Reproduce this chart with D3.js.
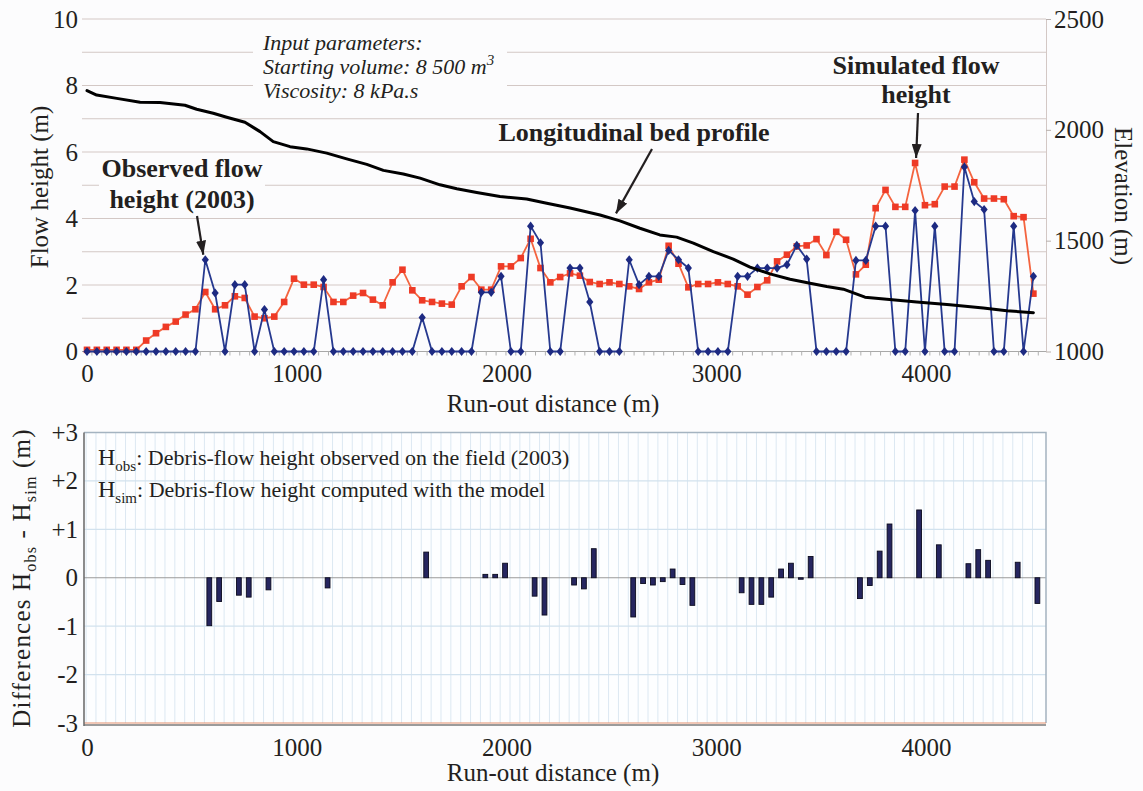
<!DOCTYPE html>
<html>
<head>
<meta charset="utf-8">
<script src="https://cdn.jsdelivr.net/npm/d3@7"></script>
<style>
  body { margin: 0; background: #fcfcfd; }
  svg { display: block; font-family: "Liberation Serif", "Times New Roman", serif; }
</style>
</head>
<body>
<div id="chart"></div>
<script>
// cross-section positions along the channel (m)
var distance = [
  0, 47, 94, 141, 188, 235, 282, 329, 376, 423,
  470, 517, 564, 611, 658, 705, 752, 799, 846, 893,
  940, 987, 1034, 1081, 1128, 1175, 1222, 1269, 1316, 1363,
  1410, 1457, 1504, 1551, 1598, 1645, 1692, 1739, 1786, 1833,
  1880, 1927, 1974, 2021, 2068, 2115, 2162, 2209, 2256, 2303,
  2350, 2397, 2444, 2491, 2538, 2585, 2632, 2679, 2726, 2773,
  2820, 2867, 2914, 2961, 3008, 3055, 3102, 3149, 3196, 3243,
  3290, 3337, 3384, 3431, 3478, 3525, 3572, 3619, 3666, 3713,
  3760, 3807, 3854, 3901, 3948, 3995, 4042, 4089, 4136, 4183,
  4230, 4277, 4324, 4371, 4418, 4465, 4512
];

// observed flow height 2003 (m)
var observed = [
  0, 0, 0, 0, 0, 0, 0, 0, 0, 0,
  0, 0, 2.76, 1.76, 0, 2.01, 2.01, 0, 1.26, 0,
  0, 0, 0, 0, 2.16, 0, 0, 0, 0, 0,
  0, 0, 0, 0, 1.02, 0, 0, 0, 0, 0,
  1.78, 1.78, 2.26, 0, 0, 3.77, 3.27, 0, 0, 2.51,
  2.51, 1.49, 0, 0, 0, 2.76, 2.01, 2.26, 2.26, 3.04,
  2.76, 2.51, 0, 0, 0, 0, 2.26, 2.26, 2.51, 2.51,
  2.51, 2.61, 3.19, 2.78, 0, 0, 0, 0, 2.74, 2.74,
  3.77, 3.77, 0, 0, 4.24, 0, 3.77, 0, 0, 5.55,
  4.51, 4.27, 0, 0, 3.77, 0, 2.26
];

// simulated flow height (m)
var simulated = [
  0.05, 0.05, 0.05, 0.05, 0.05, 0.05, 0.33, 0.55, 0.74, 0.90,
  1.11, 1.27, 1.79, 1.27, 1.39, 1.66, 1.61, 1.05, 1.00, 1.05,
  1.49, 2.19, 2.01, 2.01, 1.94, 1.49, 1.49, 1.68, 1.76, 1.56,
  1.39, 2.08, 2.46, 1.84, 1.54, 1.49, 1.44, 1.41, 1.96, 2.24,
  1.86, 1.86, 2.56, 2.56, 2.81, 3.39, 2.51, 2.08, 2.24, 2.35,
  2.28, 2.09, 2.03, 2.08, 2.03, 1.96, 1.88, 2.08, 2.16, 3.18,
  2.64, 1.93, 2.03, 2.03, 2.08, 2.03, 1.96, 1.71, 1.94, 2.14,
  2.71, 2.91, 3.16, 3.19, 3.38, 2.90, 3.60, 3.36, 2.32, 2.61,
  4.31, 4.86, 4.35, 4.35, 5.67, 4.40, 4.43, 4.96, 4.96, 5.77,
  5.09, 4.60, 4.60, 4.58, 4.07, 4.04, 1.74
];

// longitudinal bed profile
var profileDistance = [0, 46, 142, 253, 348, 467, 523, 602, 666, 753, 825, 888, 968, 1047, 1143, 1238,
  1334, 1413, 1508, 1588, 1683, 1763, 1858, 1969, 2096, 2192, 2303, 2446, 2541, 2636, 2731, 2811,
  2891, 2986, 3081, 3161, 3256, 3352, 3447, 3527, 3606, 3709, 3813, 3956, 4114, 4273, 4385, 4512];
var profileElevation = [2177, 2157, 2142, 2124, 2123, 2111, 2093, 2075, 2057, 2034, 1992, 1947, 1924, 1914, 1895, 1869,
  1844, 1817, 1801, 1782, 1752, 1734, 1717, 1699, 1688, 1669, 1647, 1616, 1589, 1556, 1526, 1516,
  1489, 1451, 1417, 1381, 1350, 1326, 1308, 1293, 1281, 1245, 1236, 1223, 1211, 1196, 1184, 1175];

// differences plotted in the lower panel
var diffDistance = [564, 611, 705, 752, 846, 1128, 1598, 1880, 1927, 1974, 2115, 2162, 2303, 2350, 2397,
  2585, 2632, 2679, 2726, 2773, 2820, 2867, 3102, 3149, 3196, 3243, 3290, 3337, 3384, 3431,
  3666, 3713, 3760, 3807, 3948, 4042, 4183, 4230, 4277, 4418, 4512];
var diffValue = [-0.99, -0.49, -0.36, -0.40, -0.25, -0.21, 0.53, 0.07, 0.07, 0.30, -0.38, -0.77, -0.15, -0.23, 0.60,
  -0.81, -0.12, -0.15, -0.08, 0.18, -0.14, -0.57, -0.31, -0.55, -0.55, -0.40, 0.18, 0.30, -0.03, 0.44,
  -0.43, -0.16, 0.55, 1.11, 1.40, 0.68, 0.29, 0.58, 0.36, 0.32, -0.53];

var xTicks = [0, 1000, 2000, 3000, 4000];
var flowTicks = [0, 2, 4, 6, 8, 10];
var elevTicks = [1000, 1500, 2000, 2500];
var diffTicks = [-3, -2, -1, 0, 1, 2, 3];

function init() {
  var w = 1143;
  var h = 791;
  var bg = "#fcfcfd";
  var left = 82;
  var right = 1046;
  var ink = "#231f20";

  var svg = d3.select("#chart")
    .append("svg")
    .attr("width", w)
    .attr("height", h);

  svg.append("rect").attr("width", w).attr("height", h).attr("fill", bg);

  // arrow head
  svg.append("defs").append("marker")
    .attr("id", "arrow")
    .attr("viewBox", "0 0 14 10")
    .attr("refX", 14)
    .attr("refY", 5)
    .attr("markerWidth", 14)
    .attr("markerHeight", 10)
    .attr("markerUnits", "userSpaceOnUse")
    .attr("orient", "auto")
    .append("path")
    .attr("d", "M0,0 L14,5 L0,10 Z")
    .attr("fill", ink);

  var x = d3.scaleLinear().domain([0, 4000]).range([87, 926]);

  // ---------- top panel ----------
  var yFlow = d3.scaleLinear().domain([0, 10]).range([351.5, 19]);
  var yElev = d3.scaleLinear().domain([1000, 2500]).range([351.5, 19]);

  svg.append("g").selectAll("line")
    .data(yFlow.ticks(10).filter(function(d) { return d > 0; }))
    .enter().append("line")
    .attr("x1", left).attr("x2", right)
    .attr("y1", function(d) { return yFlow(d); })
    .attr("y2", function(d) { return yFlow(d); })
    .attr("stroke", "#d3c8c5")
    .attr("stroke-width", 1.2);

  svg.append("line")
    .attr("x1", left).attr("x2", right)
    .attr("y1", yFlow(0)).attr("y2", yFlow(0))
    .attr("stroke", "#a8a8a8").attr("stroke-width", 1.2);

  // small category ticks under the baseline
  svg.append("g").selectAll("line")
    .data(distance)
    .enter().append("line")
    .attr("x1", function(d) { return x(d) + 4.9; })
    .attr("x2", function(d) { return x(d) + 4.9; })
    .attr("y1", yFlow(0)).attr("y2", yFlow(0) + 4)
    .attr("stroke", "#b0b0b0");

  // white boxes behind the annotations
  svg.append("rect").attr("x", 253).attr("y", 26).attr("width", 254).attr("height", 80).attr("fill", bg);
  svg.append("rect").attr("x", 99).attr("y", 157).attr("width", 166).attr("height", 57).attr("fill", bg);

  // left axis
  var gl = svg.append("g")
    .attr("transform", "translate(" + left + ",0)")
    .call(d3.axisLeft(yFlow).tickValues(flowTicks).tickSize(0).tickPadding(4));
  gl.select(".domain").remove();

  // right axis
  var gr = svg.append("g")
    .attr("transform", "translate(" + right + ",0)")
    .call(d3.axisRight(yElev).tickValues(elevTicks).tickSize(5).tickSizeOuter(0).tickPadding(3)
      .tickFormat(d3.format("d")));
  gr.select(".domain").attr("stroke", "#d3c8c5");
  gr.selectAll(".tick line").attr("stroke", "#b8b0ad");

  // bottom axis
  var gb = svg.append("g")
    .attr("transform", "translate(0," + yFlow(0) + ")")
    .call(d3.axisBottom(x).tickValues(xTicks).tickSize(0).tickPadding(13).tickFormat(d3.format("d")));
  gb.select(".domain").remove();

  [gl, gr, gb].forEach(function(g) {
    g.attr("font-family", null).attr("font-size", 25);
    g.selectAll("text").attr("fill", ink);
  });

  // simulated flow height
  var lineFlow = d3.line()
    .x(function(d, i) { return x(distance[i]); })
    .y(function(d) { return yFlow(d); });

  svg.append("path")
    .datum(simulated)
    .attr("d", lineFlow)
    .attr("fill", "none")
    .attr("stroke", "#f4643f")
    .attr("stroke-width", 1.8);

  svg.append("g").selectAll("rect")
    .data(simulated)
    .enter().append("rect")
    .attr("x", function(d, i) { return x(distance[i]) - 3.3; })
    .attr("y", function(d) { return yFlow(d) - 3.3; })
    .attr("width", 6.6).attr("height", 6.6)
    .attr("fill", "#ee3a26");

  // observed flow height
  svg.append("path")
    .datum(observed)
    .attr("d", lineFlow)
    .attr("fill", "none")
    .attr("stroke", "#26398f")
    .attr("stroke-width", 1.8);

  svg.append("g").selectAll("path")
    .data(observed)
    .enter().append("path")
    .attr("transform", function(d, i) { return "translate(" + x(distance[i]) + "," + yFlow(d) + ")"; })
    .attr("d", "M0,-4.6 L3.6,0 L0,4.6 L-3.6,0 Z")
    .attr("fill", "#1d2a82");

  // bed profile
  var lineProfile = d3.line()
    .x(function(d, i) { return x(profileDistance[i]); })
    .y(function(d) { return yElev(d); });

  svg.append("path")
    .datum(profileElevation)
    .attr("d", lineProfile)
    .attr("fill", "none")
    .attr("stroke", "#000")
    .attr("stroke-width", 3)
    .attr("stroke-linejoin", "round")
    .attr("stroke-linecap", "round");

  // axis titles
  svg.append("text")
    .attr("transform", "translate(48,187) rotate(-90)")
    .attr("text-anchor", "middle").attr("font-size", 25).attr("fill", ink)
    .text("Flow height (m)");

  svg.append("text")
    .attr("transform", "translate(1115,196) rotate(90)")
    .attr("text-anchor", "middle").attr("font-size", 25).attr("fill", ink)
    .text("Elevation (m)");

  svg.append("text")
    .attr("x", 553).attr("y", 412)
    .attr("text-anchor", "middle").attr("font-size", 25).attr("fill", ink)
    .text("Run-out distance (m)");

  // input parameters
  var params = svg.append("text")
    .attr("font-size", 22).attr("font-style", "italic").attr("fill", ink);
  params.append("tspan").attr("x", 263).attr("y", 50).text("Input parameters:");
  params.append("tspan").attr("x", 263).attr("y", 74).text("Starting volume: 8 500 m");
  params.append("tspan").attr("dy", -9).attr("font-size", 15).text("3");
  params.append("tspan").attr("x", 263).attr("y", 98).text("Viscosity: 8 kPa.s");

  // annotations
  function bold(tx, ty, str) {
    svg.append("text")
      .attr("x", tx).attr("y", ty)
      .attr("text-anchor", "middle")
      .attr("font-size", 26).attr("font-weight", "bold").attr("fill", ink)
      .text(str);
  }
  function arrow(x1, y1, x2, y2) {
    svg.append("line")
      .attr("x1", x1).attr("y1", y1).attr("x2", x2).attr("y2", y2)
      .attr("stroke", ink).attr("stroke-width", 2.2)
      .attr("marker-end", "url(#arrow)");
  }

  bold(182, 177, "Observed flow");
  bold(182, 208, "height (2003)");
  arrow(197, 216, x(564) - 2, yFlow(2.76) - 5);

  bold(634, 141, "Longitudinal bed profile");
  arrow(652, 149, x(2522), yElev(1623));

  bold(916, 74, "Simulated flow");
  bold(916, 103, "height");
  arrow(918, 113, x(3948) + 1, yFlow(5.67) - 5);

  // ---------- bottom panel ----------
  var yDiff = d3.scaleLinear().domain([-3, 3]).range([723, 432.5]);
  var bLeft = 84;

  svg.append("rect")
    .attr("x", bLeft).attr("y", yDiff(3))
    .attr("width", right - bLeft).attr("height", yDiff(-3) - yDiff(3))
    .attr("fill", "#fdfeff");

  svg.append("g").selectAll("line")
    .data(distance)
    .enter().append("line")
    .attr("x1", function(d) { return x(d) - 0.9; })
    .attr("x2", function(d) { return x(d) - 0.9; })
    .attr("y1", yDiff(3)).attr("y2", yDiff(-3))
    .attr("stroke", "#dce8f2");

  svg.append("g").selectAll("line")
    .data([-2, -1, 1, 2])
    .enter().append("line")
    .attr("x1", bLeft).attr("x2", right)
    .attr("y1", function(d) { return yDiff(d); })
    .attr("y2", function(d) { return yDiff(d); })
    .attr("stroke", "#d2e2ee").attr("stroke-width", 1.2);

  svg.append("line")
    .attr("x1", bLeft).attr("x2", right)
    .attr("y1", yDiff(0)).attr("y2", yDiff(0))
    .attr("stroke", "#9a9a9a").attr("stroke-width", 1.2);

  // frame
  svg.append("path")
    .attr("d", "M" + bLeft + "," + yDiff(3) + "H" + right + "V" + yDiff(-3))
    .attr("fill", "none").attr("stroke", "#a4b3c0").attr("stroke-width", 1.5);
  svg.append("line")
    .attr("x1", bLeft).attr("x2", right)
    .attr("y1", yDiff(-3) + 2).attr("y2", yDiff(-3) + 2)
    .attr("stroke", "#9b9b9b").attr("stroke-width", 2);
  svg.append("line")
    .attr("x1", bLeft).attr("x2", right)
    .attr("y1", yDiff(-3)).attr("y2", yDiff(-3))
    .attr("stroke", "#e3906f").attr("stroke-width", 1.2);
  svg.append("line")
    .attr("x1", bLeft).attr("x2", bLeft)
    .attr("y1", yDiff(3)).attr("y2", yDiff(-3) + 3)
    .attr("stroke", "#6f6f6f").attr("stroke-width", 1.6);

  // bars
  svg.append("g").selectAll("rect")
    .data(diffValue)
    .enter().append("rect")
    .attr("x", function(d, i) { return x(diffDistance[i]) + 4 - 2.4; })
    .attr("y", function(d) { return yDiff(Math.max(d, 0)); })
    .attr("width", 4.8)
    .attr("height", function(d) { return Math.max(Math.abs(yDiff(d) - yDiff(0)), 1.5); })
    .attr("fill", "#25255f")
    .attr("stroke", "#0b0b1e")
    .attr("stroke-width", 0.9);

  var dl = svg.append("g")
    .attr("transform", "translate(" + bLeft + ",0)")
    .call(d3.axisLeft(yDiff).tickValues(diffTicks).tickSize(0).tickPadding(6)
      .tickFormat(function(d) { return d > 0 ? "+" + d : String(d); }));
  dl.select(".domain").remove();

  var db = svg.append("g")
    .attr("transform", "translate(0," + yDiff(-3) + ")")
    .call(d3.axisBottom(x).tickValues(xTicks).tickSize(0).tickPadding(15).tickFormat(d3.format("d")));
  db.select(".domain").remove();

  [dl, db].forEach(function(g) {
    g.attr("font-family", null).attr("font-size", 25);
    g.selectAll("text").attr("fill", ink);
  });

  svg.append("text")
    .attr("x", 553).attr("y", 781)
    .attr("text-anchor", "middle").attr("font-size", 25).attr("fill", ink)
    .text("Run-out distance (m)");

  // rotated title with subscripts
  var dt = svg.append("text")
    .attr("transform", "translate(30,578) rotate(-90)")
    .attr("text-anchor", "middle").attr("font-size", 25).attr("fill", ink)
    .attr("letter-spacing", 1.2);
  dt.append("tspan").text("Differences H");
  dt.append("tspan").attr("dy", 6).attr("font-size", 16).text("obs");
  dt.append("tspan").attr("dy", -6).text(" - H");
  dt.append("tspan").attr("dy", 6).attr("font-size", 16).text("sim");
  dt.append("tspan").attr("dy", -6).text(" (m)");

  // legend text
  function legendLine(ty, sub, rest) {
    var t = svg.append("text").attr("x", 98).attr("y", ty).attr("font-size", 22).attr("fill", ink);
    t.append("tspan").attr("font-size", 24).text("H");
    t.append("tspan").attr("dy", 6).attr("font-size", 15).text(sub);
    t.append("tspan").attr("dy", -6).text(rest);
  }
  legendLine(465, "obs", ": Debris-flow height observed on the field (2003)");
  legendLine(497, "sim", ": Debris-flow height computed with the model");
}

window.onload = init;
</script>
</body>
</html>
